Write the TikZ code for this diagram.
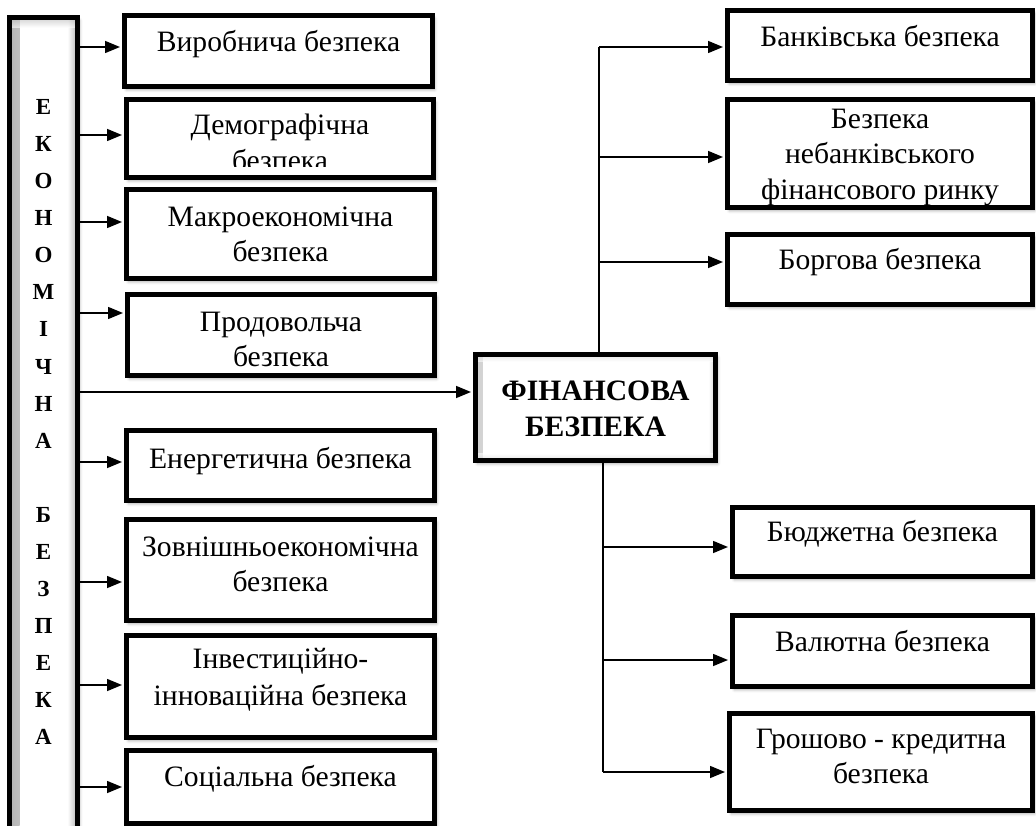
\documentclass[tikz,border=0pt]{standalone}
\usepackage{fontspec}
\setmainfont{Liberation Serif}[BoldFont={Liberation Serif Bold}]
\newfontfamily\bserif{Liberation Serif Bold}
\usetikzlibrary{arrows.meta,shadows.blur}
\tikzset{
  box/.style={draw, line width=5pt, fill=white, inner sep=0pt,
    blur shadow={shadow xshift=2pt, shadow yshift=-3pt, shadow blur radius=3pt, shadow opacity=35}},
  lbl/.style={font=\fontsize{29.6}{35}\selectfont, inner sep=0pt, anchor=base},
  fintext/.style={font=\bserif\fontsize{29.6}{35}\selectfont, inner sep=0pt, anchor=base},
  barletter/.style={font=\bserif\fontsize{23}{23}\selectfont, inner sep=0pt, anchor=base},
  conn/.style={line width=1.5pt},
  arr/.style={line width=1.5pt, -{Triangle[length=15pt,width=12pt]}, shorten >=2pt},
  bevel/.style 2 args={path picture={
    \shade[left color=gray!#2, right color=white] (path picture bounding box.south west) rectangle ([xshift=#1]path picture bounding box.north west);
    \shade[left color=white, right color=gray!#2] ([xshift=-#1]path picture bounding box.south east) rectangle (path picture bounding box.north east);
    \shade[top color=gray!#2, bottom color=white, opacity=0.6] ([yshift=-#1]path picture bounding box.north west) rectangle (path picture bounding box.north east);
    \shade[top color=white, bottom color=gray!#2, opacity=0.6] (path picture bounding box.south west) rectangle ([yshift=#1]path picture bounding box.south east);
  }},
}
\begin{document}
\begin{tikzpicture}[x=1pt,y=-1pt]
\useasboundingbox (0,0) rectangle (1036,826);

% left bar
\node[box, bevel={10pt}{60}, minimum width=68pt, minimum height=843pt] (bar) at (43.5,439) {};
\foreach \l [count=\i from 0] in {Е,К,О,Н,О,М,І,Ч,Н,А}
  \node[barletter] (bl\i) at (43.5,{115+37*\i}) {\l};
\foreach \l [count=\i from 11] in {Б,Е,З,П,Е,К,А}
  \node[barletter] (bl\i) at (43.5,{115+37*\i}) {\l};

% left boxes
\node[box, minimum width=308pt, minimum height=71pt]  (l1) at (278.5,51) {};
\node[box, minimum width=307pt, minimum height=78pt]  (l2) at (280,138.5) {};
\node[box, minimum width=308pt, minimum height=89pt]  (l3) at (280.5,234) {};
\node[box, minimum width=307pt, minimum height=81pt]  (l4) at (281,335) {};
\node[box, minimum width=308pt, minimum height=70pt]  (l5) at (280.5,465.5) {};
\node[box, minimum width=308pt, minimum height=101pt] (l6) at (280.5,570) {};
\node[box, minimum width=308pt, minimum height=102pt] (l7) at (280.5,686.5) {};
\node[box, minimum width=308pt, minimum height=73pt]  (l8) at (280.5,787) {};

\node[lbl] (l1a) at (278.5,51.7) {Виробнича безпека};
\node[lbl] (l2a) at (280,135) {Демографічна};
\begin{scope}
  \clip (124,97) rectangle (436,167);
  \node[lbl] (l2b) at (280,171) {безпека};
\end{scope}
\node[lbl] (l3a) at (280.5,227) {Макроекономічна};
\node[lbl] (l3b) at (280.5,262) {безпека};
\node[lbl] (l4a) at (281,331.7) {Продовольча};
\node[lbl] (l4b) at (281,366.7) {безпека};
\node[lbl] (l5a) at (280.5,468) {Енергетична безпека};
\node[lbl] (l6a) at (280.5,556.7) {Зовнішньоекономічна};
\node[lbl] (l6b) at (280.5,591.7) {безпека};
\node[lbl] (l7a) at (280.5,668.3) {Інвестиційно-};
\node[lbl] (l7b) at (280.5,705) {інноваційна безпека};
\node[lbl] (l8a) at (280.5,786.7) {Соціальна безпека};

% central box
\node[box, bevel={7pt}{35}, minimum width=240pt, minimum height=106pt] (fin) at (595.5,407.5) {};
\node[fintext] (fina) at (595.5,400) {ФІНАНСОВА};
\node[fintext] (finb) at (595.5,436.7) {БЕЗПЕКА};

% right boxes
\node[box, minimum width=305pt, minimum height=70pt]  (r1) at (880,45.5) {};
\node[box, minimum width=305pt, minimum height=108pt] (r2) at (880,153.5) {};
\node[box, minimum width=305pt, minimum height=70pt]  (r3) at (880,269.5) {};
\node[box, minimum width=300pt, minimum height=69pt]  (r4) at (882.5,542) {};
\node[box, minimum width=300pt, minimum height=71pt]  (r5) at (882.5,651) {};
\node[box, minimum width=303pt, minimum height=97pt]  (r6) at (881,762) {};

\node[lbl] (r1a) at (880,46.7) {Банківська безпека};
\node[lbl] (r2a) at (880,128.3) {Безпека};
\node[lbl] (r2b) at (880,163.3) {небанківського};
\begin{scope}
  \clip (727,99) rectangle (1033,205);
  \node[lbl] (r2c) at (880,200) {фінансового ринку};
\end{scope}
\node[lbl] (r3a) at (880,270) {Боргова безпека};
\node[lbl] (r4a) at (882.5,541.7) {Бюджетна безпека};
\node[lbl] (r5a) at (882.5,651.7) {Валютна безпека};
\node[lbl] (r6a) at (881,748.3) {Грошово - кредитна};
\node[lbl] (r6b) at (881,783.3) {безпека};

% left arrows
\foreach \n/\y in {l1/47,l2/135,l3/222,l4/313,l5/462,l6/582,l7/685,l8/787}{
  \coordinate (y\n) at (0,\y);
  \draw[arr] (bar.east |- y\n) -- (\n.west |- y\n);
}
\coordinate (ymain) at (0,392);
\draw[arr] (bar.east |- ymain) -- (fin.west |- ymain);

% right trunks
\coordinate (ttop) at (599,47);
\coordinate (tbot) at (603,772);
\draw[conn] (fin.north -| ttop) -- (ttop);
\draw[arr] (ttop) -- (r1.west |- ttop);
\foreach \n/\y in {r2/157,r3/262}{
  \coordinate (y\n) at (599,\y);
  \draw[arr] (y\n) -- (\n.west |- y\n);
}
\draw[conn] (fin.south -| tbot) -- (tbot);
\draw[arr] (tbot) -- (r6.west |- tbot);
\foreach \n/\y in {r4/547,r5/660}{
  \coordinate (y\n) at (603,\y);
  \draw[arr] (y\n) -- (\n.west |- y\n);
}
\end{tikzpicture}
\end{document}
